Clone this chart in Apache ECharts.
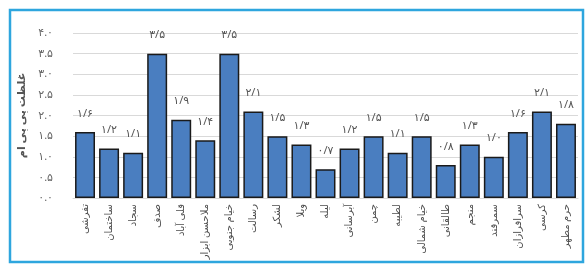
<!DOCTYPE html>
<html>
<head>
<meta charset="utf-8">
<script src="https://cdn.jsdelivr.net/npm/echarts@6/dist/echarts.min.js"></script>
<style>
html,body{margin:0;padding:0;background:#fff;}
#c{width:587px;height:270px;}
</style>
</head>
<body>
<div id="c"></div>
<script>
const categories = ["تفرشی","ساختمان","سجاد","صدف","قلی آباد","ملاحسن ابزار","خیام جنوبی","رسالت","لشکر","ویلا","لیله","آبرسانی","چمن","لطیبه","خیام شمالی","طالقانی","منجم","سمرقند","سرافرازان","کرسی","حرم مطهر"];
const values = [1.6,1.2,1.1,3.5,1.9,1.4,3.5,2.1,1.5,1.3,0.7,1.2,1.5,1.1,1.5,0.8,1.3,1.0,1.6,2.1,1.8];
const yTicks = [0,0.5,1,1.5,2,2.5,3,3.5,4];
const yName = "غلظت پی پی ام";

const fa = s => String(s).replace(/[0-9]/g, d => "۰۱۲۳۴۵۶۷۸۹"[+d]);

const chart = echarts.init(document.getElementById('c'), null, {renderer:'canvas'});
chart.setOption({
  animation:false,
  backgroundColor:'#fff',
  graphic:[{type:'rect',shape:{x:10,y:10,width:573,height:252},style:{fill:'none',stroke:'#2ea6de',lineWidth:2.5},z:100}],
  grid:{left:73,right:9,top:33,bottom:72},
  xAxis:{
    type:'category',data:categories,
    axisTick:{show:false},
    axisLine:{show:true,lineStyle:{color:'#d9d9d9'}},
    axisLabel:{rotate:90,interval:0,color:'#4d4d4d',fontSize:10,fontFamily:'Noto Sans, DejaVu Sans',margin:6}
  },
  yAxis:{
    type:'value',min:yTicks[0],max:yTicks[yTicks.length-1],interval:0.5,
    name:yName,nameLocation:'middle',nameGap:46,nameRotate:90,
    nameTextStyle:{color:'#555',fontSize:11,fontWeight:'bold',fontFamily:'Noto Sans, DejaVu Sans'},
    axisLine:{show:false},axisTick:{show:false},
    splitLine:{lineStyle:{color:'#d9d9d9',width:1}},
    axisLabel:{color:'#666',fontSize:11,margin:20,fontFamily:'Noto Sans, DejaVu Sans',formatter:v=>fa(v.toFixed(1))}
  },
  series:[{
    type:'bar',data:values,barCategoryGap:'17%',
    itemStyle:{color:'#4a7ec0',borderColor:'#1a1a1a',borderWidth:1.5},
    label:{show:true,position:'top',distance:13,color:'#555',fontSize:11,fontFamily:'Noto Sans, DejaVu Sans',
      formatter:p=>fa(p.value.toFixed(1)).replace('.','/')}
  }]
});
</script>
</body>
</html>
